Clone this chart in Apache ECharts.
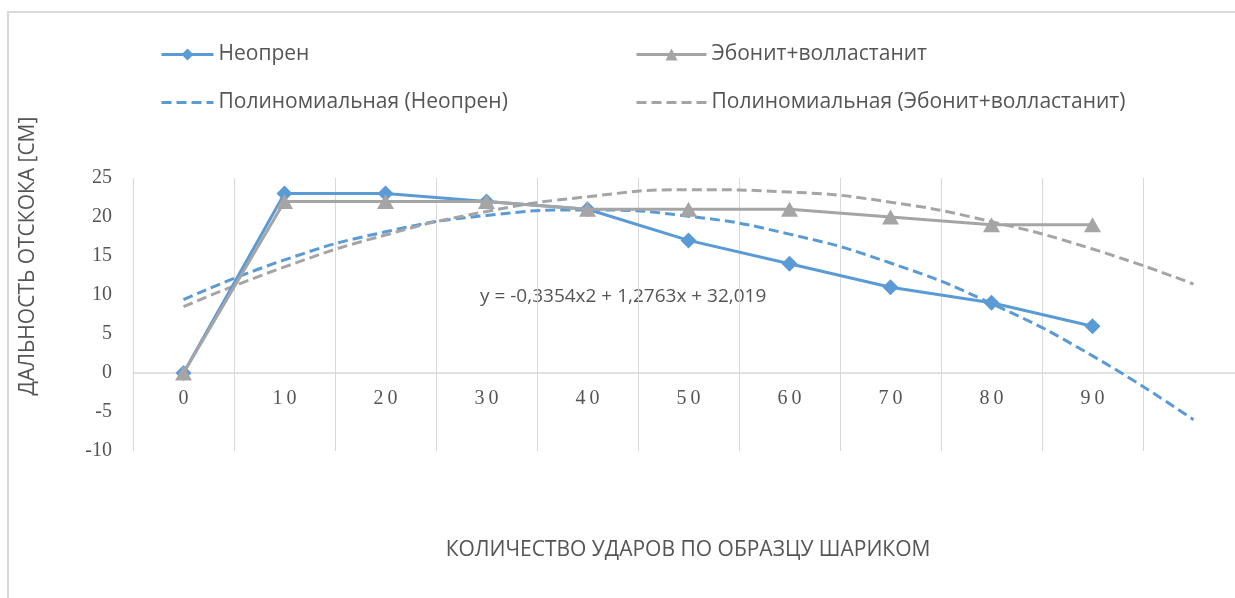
<!DOCTYPE html>
<html>
<head>
<meta charset="utf-8">
<script src="https://cdn.jsdelivr.net/npm/echarts@6/dist/echarts.min.js"></script>
<style>
  html, body { margin: 0; padding: 0; background: #ffffff; }
  #chart { width: 1235px; height: 598px; }
</style>
</head>
<body>
<div id="chart"></div>
<script>
// Number of ball impacts on the sample (the last slot only carries the trend forecast)
const impacts = ['0', '10', '20', '30', '40', '50', '60', '70', '80', '90', ''];

// Rebound distance, cm
const neoprene = [0, 23, 23, 22, 21, 17, 14, 11, 9, 6];
const ebonite  = [0, 22, 22, 22, 21, 21, 21, 20, 19, 19];

// Polynomial (2nd order) trend lines, one forecast step beyond the data
const neopreneTrend = [9.4, 14.5, 18.1, 20.2, 20.9, 20.1, 17.8, 14.1, 8.9, 2.2, -6.0];
const eboniteTrend  = [8.5, 13.6, 17.7, 20.7, 22.6, 23.5, 23.2, 21.9, 19.4, 15.9, 11.4];

const seriesNames = ['Неопрен', 'Эбонит+волластанит', 'Полиномиальная (Неопрен)', 'Полиномиальная (Эбонит+волластанит)'];
const yAxisTitle = 'ДАЛЬНОСТЬ ОТСКОКА [СМ]';
const xAxisTitle = 'КОЛИЧЕСТВО УДАРОВ ПО ОБРАЗЦУ ШАРИКОМ';
const equationText = 'y = -0,3354x2 + 1,2763x + 32,019';

const BLUE = '#5b9bd5';
const GREY = '#a5a5a5';
const TEXT = '#555555';
const GRIDC = '#d9d9d9';
const SANS = '"Open Sans", "Noto Sans", sans-serif';
const SERIF = '"Liberation Serif", "DejaVu Serif", serif';

const chart = echarts.init(document.getElementById('chart'), null, { renderer: 'canvas' });

const legendText = { color: TEXT, fontFamily: SANS, fontSize: 21, lineHeight: 15 };
// trend entries show only their dashed line in the legend
const hiddenMarker = { opacity: 0, color: 'rgba(0,0,0,0)', borderWidth: 0 };

chart.setOption({
  animation: false,
  backgroundColor: '#ffffff',
  // the plot runs on past the right edge of the canvas, so keep the grid unclamped
  grid: { left: 133, top: 178, width: 1111, height: 273, containLabel: false, outerBoundsMode: 'none' },
  legend: [
    {
      left: 155, top: 39, orient: 'vertical', itemGap: 27,
      itemWidth: 52, itemHeight: 15,
      lineStyle: { width: 3 },
      data: [seriesNames[0], { name: seriesNames[2], itemStyle: hiddenMarker }],
      textStyle: legendText
    },
    {
      left: 630, top: 39, orient: 'vertical', itemGap: 27,
      itemWidth: 70, itemHeight: 15,
      lineStyle: { width: 3 },
      data: [seriesNames[1], { name: seriesNames[3], itemStyle: hiddenMarker }],
      textStyle: legendText
    }
  ],
  xAxis: {
    type: 'category',
    data: impacts,
    boundaryGap: true,
    position: 'bottom',
    offset: -78,
    axisLine: { show: true, onZero: false, lineStyle: { color: GRIDC, width: 1.5 } },
    axisTick: { show: false },
    axisLabel: {
      interval: 0, margin: 16,
      color: TEXT, fontFamily: SERIF, fontSize: 20,
      formatter: v => v.split('').join('\u2009')
    },
    splitLine: { show: true, interval: 0, lineStyle: { color: GRIDC, width: 1 } }
  },
  yAxis: {
    type: 'value',
    min: -10, max: 25, interval: 5,
    axisLine: { show: false },
    axisTick: { show: false },
    splitLine: { show: false },
    axisLabel: { margin: 21, color: TEXT, fontFamily: SERIF, fontSize: 20 }
  },
  graphic: [
    {
      type: 'rect', silent: true, z: -10,
      shape: { x: 8, y: 12, width: 1400, height: 800 },
      style: { fill: 'none', stroke: GRIDC, lineWidth: 2 }
    },
    {
      type: 'text', x: 28, y: 256, rotation: Math.PI / 2,
      style: { text: yAxisTitle, fill: TEXT, font: '21px ' + SANS, align: 'center', verticalAlign: 'middle' }
    },
    {
      type: 'text', x: 688, y: 550,
      style: { text: xAxisTitle, fill: TEXT, font: '21px ' + SANS, align: 'center', verticalAlign: 'middle' }
    },
    {
      type: 'text', x: 480, y: 297,
      style: { text: equationText, fill: TEXT, font: '19px ' + SANS, align: 'left', verticalAlign: 'middle' }
    }
  ],
  series: [
    {
      name: seriesNames[2], type: 'line', data: neopreneTrend,
      smooth: true, symbol: 'none',
      lineStyle: { color: BLUE, width: 3, type: [10, 5] },
      itemStyle: { color: BLUE }, z: 2
    },
    {
      name: seriesNames[3], type: 'line', data: eboniteTrend,
      smooth: true, symbol: 'none',
      lineStyle: { color: GREY, width: 3, type: [10, 5] },
      itemStyle: { color: GREY }, z: 2
    },
    {
      name: seriesNames[0], type: 'line', data: neoprene,
      symbol: 'diamond', symbolSize: 16,
      lineStyle: { color: BLUE, width: 3 },
      itemStyle: { color: BLUE }, z: 3
    },
    {
      name: seriesNames[1], type: 'line', data: ebonite,
      symbol: 'triangle', symbolSize: [17, 15],
      lineStyle: { color: GREY, width: 3 },
      itemStyle: { color: GREY }, z: 4
    }
  ]
});
</script>
</body>
</html>
